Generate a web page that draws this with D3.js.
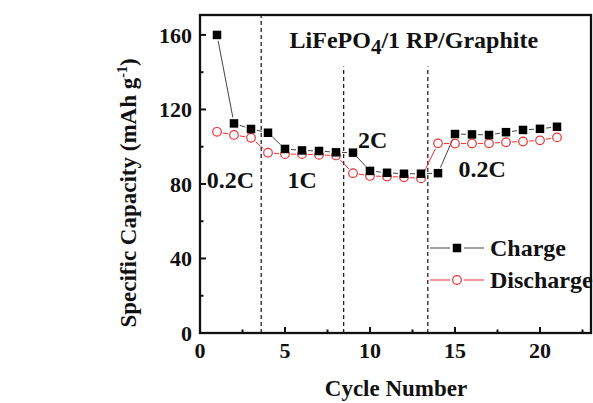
<!DOCTYPE html>
<html>
<head>
<meta charset="utf-8">
<script src="https://cdn.jsdelivr.net/npm/d3@7"></script>
<style>
  body { margin: 0; background: #fff; }
  text { font-family: "Liberation Serif", "Times New Roman", serif; font-weight: bold; fill: #111; }
</style>
</head>
<body>
<div id="chart"></div>
<script>
const cycles = d3.range(1, 22);
const charge = [160, 112.5, 109.5, 107.5, 98.8, 98, 97.7, 97, 96.8, 87, 86, 85.5, 85.5, 85.8,
                106.8, 106.6, 106.3, 107.8, 109, 109.6, 110.7];
const discharge = [108, 106.3, 104.8, 96.8, 96, 96, 95.6, 95.3, 85.8, 84.3, 84, 83.6, 83, 101.8,
                   101.7, 101.7, 101.8, 102.4, 102.8, 103.4, 105];
const xTicks = [0, 5, 10, 15, 20];
const yTicks = [0, 40, 80, 120, 160];
const rateDividers = [{ x: 3.6, top: 170.7 }, { x: 8.45, top: 143 }, { x: 13.4, top: 143 }];
const rateLabels = [
  { text: "0.2C", x: 0.4, y: 78 },
  { text: "1C", x: 5.15, y: 78 },
  { text: "2C", x: 9.3, y: 99.3 },
  { text: "0.2C", x: 15.2, y: 84 }
];

const width = 593, height = 403;
const plot = { left: 200, right: 591, top: 15, bottom: 333 };

const svg = d3.select("#chart").append("svg")
  .attr("width", width)
  .attr("height", height);

const x = d3.scaleLinear().domain([0, 23]).range([plot.left, plot.right]);
const y = d3.scaleLinear().domain([0, 170.7]).range([plot.bottom, plot.top]);

// dashed rate dividers
rateDividers.forEach(d => {
  svg.append("line")
    .attr("x1", x(d.x)).attr("x2", x(d.x))
    .attr("y1", y(0)).attr("y2", y(d.top))
    .attr("stroke", "#222")
    .attr("stroke-width", 1.3)
    .attr("stroke-dasharray", "4,3");
});

// ticks (inward)
const tickG = svg.append("g").attr("stroke", "#111").attr("stroke-width", 2);
d3.range(0, 23, 2.5).forEach(v => {
  const len = v % 5 === 0 ? 6 : 3.5;
  tickG.append("line").attr("x1", x(v)).attr("x2", x(v))
    .attr("y1", plot.bottom).attr("y2", plot.bottom - len);
});
d3.range(0, 171, 20).forEach(v => {
  const len = v % 40 === 0 ? 6 : 3.5;
  tickG.append("line").attr("x1", plot.left).attr("x2", plot.left + len)
    .attr("y1", y(v)).attr("y2", y(v));
});

// frame
svg.append("rect")
  .attr("x", plot.left).attr("y", plot.top)
  .attr("width", plot.right - plot.left).attr("height", plot.bottom - plot.top)
  .attr("fill", "none")
  .attr("stroke", "#111")
  .attr("stroke-width", 2.3);

// tick labels
xTicks.forEach(v => {
  svg.append("text")
    .attr("x", x(v)).attr("y", plot.bottom + 25)
    .attr("text-anchor", "middle")
    .attr("font-size", "22px")
    .text(v);
});
yTicks.forEach(v => {
  svg.append("text")
    .attr("x", plot.left - 8).attr("y", y(v) + 8)
    .attr("text-anchor", "end")
    .attr("font-size", "22px")
    .text(v);
});

// axis titles
svg.append("text")
  .attr("x", 396).attr("y", 396)
  .attr("text-anchor", "middle")
  .attr("font-size", "23px")
  .text("Cycle Number");

const yTitle = svg.append("text")
  .attr("transform", "translate(136,193) rotate(-90)")
  .attr("text-anchor", "middle")
  .attr("font-size", "23px");
yTitle.append("tspan").text("Specific Capacity (mAh g");
yTitle.append("tspan").attr("font-size", "14px").attr("dy", -9).text("-1");
yTitle.append("tspan").attr("dy", 9).text(")");

// series lines with gaps near markers
function gappedLine(vals, color, gap) {
  const pts = cycles.map((c, i) => [x(c), y(vals[i])]);
  for (let i = 0; i < pts.length - 1; i++) {
    const [x1, y1] = pts[i], [x2, y2] = pts[i + 1];
    const dx = x2 - x1, dy = y2 - y1, L = Math.hypot(dx, dy);
    if (L <= 2 * gap) continue;
    const ux = dx / L, uy = dy / L;
    svg.append("line")
      .attr("x1", x1 + ux * gap).attr("y1", y1 + uy * gap)
      .attr("x2", x2 - ux * gap).attr("y2", y2 - uy * gap)
      .attr("stroke", color)
      .attr("stroke-width", 1);
  }
}
gappedLine(discharge, "#f03030", 6);
gappedLine(charge, "#444", 6);

svg.selectAll("circle.dis")
  .data(discharge)
  .join("circle")
  .attr("class", "dis")
  .attr("cx", (d, i) => x(cycles[i]))
  .attr("cy", d => y(d))
  .attr("r", 4.3)
  .attr("fill", "none")
  .attr("stroke", "#f03030")
  .attr("stroke-width", 1.2);

svg.selectAll("rect.chg")
  .data(charge)
  .join("rect")
  .attr("class", "chg")
  .attr("x", (d, i) => x(cycles[i]) - 4.25)
  .attr("y", d => y(d) - 4.25)
  .attr("width", 8.5)
  .attr("height", 8.5)
  .attr("fill", "#000");

// annotations
svg.append("text")
  .attr("x", x(5.27)).attr("y", y(153))
  .attr("font-size", "24px")
  .call(t => {
    t.append("tspan").text("LiFePO");
    t.append("tspan").attr("font-size", "21px").attr("dy", 6).text("4");
    t.append("tspan").attr("dy", -6).text("/1 RP/Graphite");
  });

rateLabels.forEach(d => {
  svg.append("text")
    .attr("x", x(d.x)).attr("y", y(d.y))
    .attr("font-size", "24px")
    .text(d.text);
});

// legend
const legend = [
  { label: "Charge", color: "#444", yPos: 248, marker: "square" },
  { label: "Discharge", color: "#f03030", yPos: 280, marker: "circle" }
];
legend.forEach(l => {
  svg.append("line").attr("x1", 430).attr("x2", 450).attr("y1", l.yPos).attr("y2", l.yPos)
    .attr("stroke", l.color).attr("stroke-width", 1);
  svg.append("line").attr("x1", 464).attr("x2", 484).attr("y1", l.yPos).attr("y2", l.yPos)
    .attr("stroke", l.color).attr("stroke-width", 1);
  if (l.marker === "square") {
    svg.append("rect").attr("x", 457 - 4.25).attr("y", l.yPos - 4.25)
      .attr("width", 8.5).attr("height", 8.5).attr("fill", "#000");
  } else {
    svg.append("circle").attr("cx", 457).attr("cy", l.yPos).attr("r", 4.3)
      .attr("fill", "none").attr("stroke", l.color).attr("stroke-width", 1.2);
  }
  svg.append("text")
    .attr("x", 490).attr("y", l.yPos + 8)
    .attr("font-size", "24px")
    .text(l.label);
});
</script>
</body>
</html>
